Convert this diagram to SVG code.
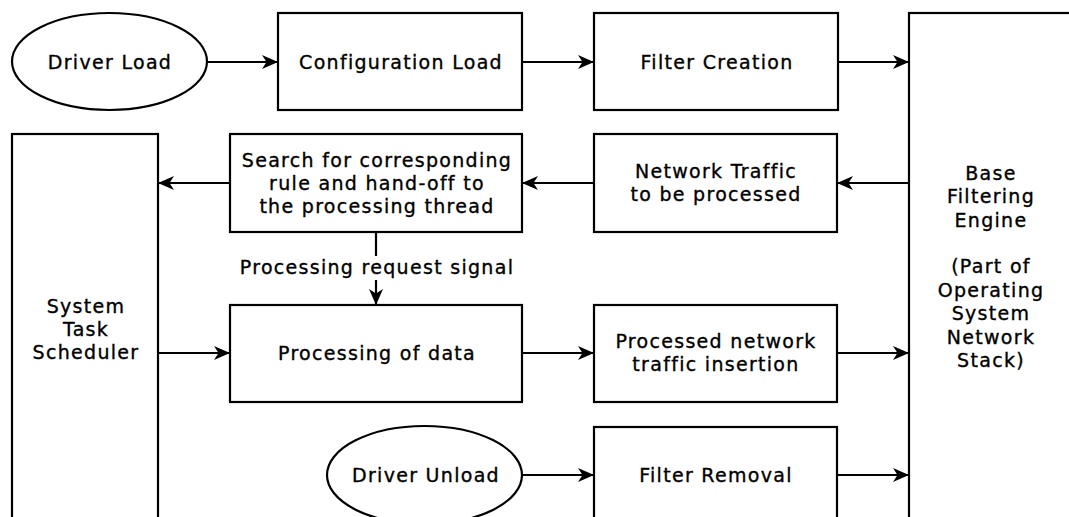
<svg xmlns="http://www.w3.org/2000/svg" width="1069" height="517" viewBox="0 0 1069 517">
<defs>
<style>
.n{fill:#fff;stroke:#000;stroke-width:2.2}
.t{font-family:"DejaVu Sans",sans-serif;font-size:19px;letter-spacing:1.3px;fill:#000;stroke:#000;stroke-width:0.35;text-anchor:middle}
.c{fill:none;stroke:#000;stroke-width:2.2}
</style>
<marker id="ah" markerUnits="userSpaceOnUse" markerWidth="17" markerHeight="16" refX="16" refY="8" orient="auto">
<path d="M0,1 L16,8 L0,15 L4.5,8 Z" fill="#000"/>
</marker>
</defs>
<rect width="1069" height="517" fill="#fff"/>
<g id="connectors">
<line class="c" x1="207" y1="62" x2="278" y2="62" marker-end="url(#ah)"/>
<line class="c" x1="522" y1="62" x2="594" y2="62" marker-end="url(#ah)"/>
<line class="c" x1="838" y1="62" x2="909" y2="62" marker-end="url(#ah)"/>
<line class="c" x1="909" y1="183" x2="837" y2="183" marker-end="url(#ah)"/>
<line class="c" x1="594" y1="183" x2="522" y2="183" marker-end="url(#ah)"/>
<line class="c" x1="230" y1="183" x2="158" y2="183" marker-end="url(#ah)"/>
<line class="c" x1="376" y1="232" x2="376" y2="305" marker-end="url(#ah)"/>
<rect x="234" y="256" width="284" height="24" fill="#fff"/>
<text class="t" x="377" y="274">Processing request signal</text>
<line class="c" x1="158" y1="353" x2="230" y2="353" marker-end="url(#ah)"/>
<line class="c" x1="522" y1="353" x2="594" y2="353" marker-end="url(#ah)"/>
<line class="c" x1="837" y1="353" x2="909" y2="353" marker-end="url(#ah)"/>
<line class="c" x1="522" y1="475" x2="594" y2="475" marker-end="url(#ah)"/>
<line class="c" x1="837" y1="475" x2="909" y2="475" marker-end="url(#ah)"/>
</g>
<g id="driver-load">
<ellipse class="n" cx="109.5" cy="61.5" rx="97.5" ry="48.5"/>
<text class="t" x="110" y="68.5">Driver Load</text>
</g>
<g id="configuration-load">
<rect class="n" x="278" y="13" width="244" height="97"/>
<text class="t" x="401" y="68.5">Configuration Load</text>
</g>
<g id="filter-creation">
<rect class="n" x="594" y="13" width="244" height="97"/>
<text class="t" x="717" y="68.5">Filter Creation</text>
</g>
<g id="base-filtering-engine">
<rect class="n" x="909" y="13" width="180" height="530"/>
<text class="t" x="991" y="180">Base</text>
<text class="t" x="991" y="203">Filtering</text>
<text class="t" x="991" y="227">Engine</text>
<text class="t" x="991" y="273">(Part of</text>
<text class="t" x="991" y="297">Operating</text>
<text class="t" x="991" y="320">System</text>
<text class="t" x="991" y="344">Network</text>
<text class="t" x="991" y="367">Stack)</text>
</g>
<g id="system-task-scheduler">
<rect class="n" x="12" y="134" width="146" height="410"/>
<text class="t" x="86" y="313">System</text>
<text class="t" x="86" y="336">Task</text>
<text class="t" x="86" y="359">Scheduler</text>
</g>
<g id="search-rule">
<rect class="n" x="230" y="134" width="292" height="98"/>
<text class="t" x="377" y="167">Search for corresponding</text>
<text class="t" x="377" y="190">rule and hand-off to</text>
<text class="t" x="377" y="213">the processing thread</text>
</g>
<g id="network-traffic">
<rect class="n" x="594" y="134" width="243" height="98"/>
<text class="t" x="716" y="178">Network Traffic</text>
<text class="t" x="716" y="201">to be processed</text>
</g>
<g id="processing-of-data">
<rect class="n" x="230" y="305" width="292" height="97"/>
<text class="t" x="377" y="360">Processing of data</text>
</g>
<g id="processed-traffic-insertion">
<rect class="n" x="594" y="305" width="243" height="97"/>
<text class="t" x="716" y="348">Processed network</text>
<text class="t" x="716" y="371">traffic insertion</text>
</g>
<g id="driver-unload">
<ellipse class="n" cx="424.5" cy="475" rx="97.5" ry="49"/>
<text class="t" x="426" y="482">Driver Unload</text>
</g>
<g id="filter-removal">
<rect class="n" x="594" y="427" width="243" height="120"/>
<text class="t" x="716" y="482">Filter Removal</text>
</g>
</svg>
